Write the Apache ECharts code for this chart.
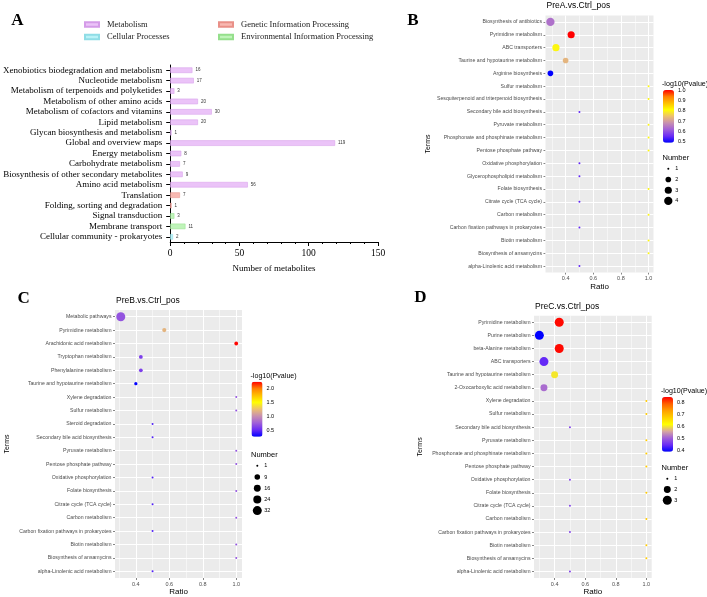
<!DOCTYPE html>
<html lang="en">
<head>
<meta charset="utf-8" />
<style>
  html, body { margin: 0; padding: 0; background: #fff; overflow: hidden; }
  #main { width: 707px; height: 597px; }
</style>
</head>
<body>
<div id="main"></div>
<script src="https://cdn.jsdelivr.net/npm/echarts@6/dist/echarts.min.js"></script>
<script>
// ---------- A: KEGG class counts ----------
var aCats = ['Xenobiotics biodegradation and metabolism', 'Nucleotide metabolism', 'Metabolism of terpenoids and polyketides',
  'Metabolism of other amino acids', 'Metabolism of cofactors and vitamins', 'Lipid metabolism', 'Glycan biosynthesis and metabolism',
  'Global and overview maps', 'Energy metabolism', 'Carbohydrate metabolism', 'Biosynthesis of other secondary metabolites',
  'Amino acid metabolism', 'Translation', 'Folding, sorting and degradation', 'Signal transduction', 'Membrane transport',
  'Cellular community - prokaryotes'];
var aValues = [16, 17, 3, 20, 30, 20, 1, 119, 8, 7, 9, 56, 7, 1, 3, 11, 2];
var aGroups = ['Metabolism', 'Metabolism', 'Metabolism', 'Metabolism', 'Metabolism', 'Metabolism', 'Metabolism', 'Metabolism',
  'Metabolism', 'Metabolism', 'Metabolism', 'Metabolism', 'Genetic Information Processing', 'Genetic Information Processing',
  'Environmental Information Processing', 'Environmental Information Processing', 'Cellular Processes'];
var groupNames = ['Metabolism', 'Cellular Processes', 'Genetic Information Processing', 'Environmental Information Processing'];

// ---------- B: PreA.vs.Ctrl_pos ----------
var bTerms = ['Biosynthesis of antibiotics', 'Pyrimidine metabolism', 'ABC transporters', 'Taurine and hypotaurine metabolism',
  'Arginine biosynthesis', 'Sulfur metabolism', 'Sesquiterpenoid and triterpenoid biosynthesis', 'Secondary bile acid biosynthesis',
  'Pyruvate metabolism', 'Phosphonate and phosphinate metabolism', 'Pentose phosphate pathway', 'Oxidative phosphorylation',
  'Glycerophospholipid metabolism', 'Folate biosynthesis', 'Citrate cycle (TCA cycle)', 'Carbon metabolism',
  'Carbon fixation pathways in prokaryotes', 'Biotin metabolism', 'Biosynthesis of ansamycins', 'alpha-Linolenic acid metabolism'];
var bRatio = [0.29, 0.44, 0.33, 0.40, 0.29, 1, 1, 0.5, 1, 1, 1, 0.5, 0.5, 1, 0.5, 1, 0.5, 1, 1, 0.5];
var bLogP = [0.64, 1.0, 0.8, 0.73, 0.49, 0.8, 0.8, 0.55, 0.8, 0.8, 0.8, 0.55, 0.55, 0.8, 0.55, 0.8, 0.55, 0.8, 0.8, 0.55];
var bNum = [4, 3, 3, 2, 2, 1, 1, 1, 1, 1, 1, 1, 1, 1, 1, 1, 1, 1, 1, 1];
var bColorTicks = [0.5, 0.6, 0.7, 0.8, 0.9, 1.0];
var bSizeKeys = [1, 2, 3, 4];

// ---------- C: PreB.vs.Ctrl_pos ----------
var cTerms = ['Metabolic pathways', 'Pyrimidine metabolism', 'Arachidonic acid metabolism', 'Tryptophan metabolism',
  'Phenylalanine metabolism', 'Taurine and hypotaurine metabolism', 'Xylene degradation', 'Sulfur metabolism', 'Steroid degradation',
  'Secondary bile acid biosynthesis', 'Pyruvate metabolism', 'Pentose phosphate pathway', 'Oxidative phosphorylation',
  'Folate biosynthesis', 'Citrate cycle (TCA cycle)', 'Carbon metabolism', 'Carbon fixation pathways in prokaryotes',
  'Biotin metabolism', 'Biosynthesis of ansamycins', 'alpha-Linolenic acid metabolism'];
var cRatio = [0.31, 0.57, 1, 0.43, 0.43, 0.40, 1, 1, 0.5, 0.5, 1, 1, 0.5, 1, 0.5, 1, 0.5, 1, 1, 0.5];
var cLogP = [0.7, 1.2, 2.25, 0.6, 0.6, 0.27, 0.7, 0.7, 0.45, 0.45, 0.7, 0.7, 0.45, 0.7, 0.45, 0.7, 0.45, 0.7, 0.7, 0.45];
var cNum = [32, 4, 3, 3, 3, 2, 1, 1, 1, 1, 1, 1, 1, 1, 1, 1, 1, 1, 1, 1];
var cColorTicks = [0.5, 1.0, 1.5, 2.0];
var cSizeKeys = [1, 9, 16, 24, 32];

// ---------- D: PreC.vs.Ctrl_pos ----------
var dTerms = ['Pyrimidine metabolism', 'Purine metabolism', 'beta-Alanine metabolism', 'ABC transporters',
  'Taurine and hypotaurine metabolism', '2-Oxocarboxylic acid metabolism', 'Xylene degradation', 'Sulfur metabolism',
  'Secondary bile acid biosynthesis', 'Pyruvate metabolism', 'Phosphonate and phosphinate metabolism', 'Pentose phosphate pathway',
  'Oxidative phosphorylation', 'Folate biosynthesis', 'Citrate cycle (TCA cycle)', 'Carbon metabolism',
  'Carbon fixation pathways in prokaryotes', 'Biotin metabolism', 'Biosynthesis of ansamycins', 'alpha-Linolenic acid metabolism'];
var dRatio = [0.43, 0.30, 0.43, 0.33, 0.40, 0.33, 1, 1, 0.5, 1, 1, 1, 0.5, 1, 0.5, 1, 0.5, 1, 1, 0.5];
var dLogP = [0.84, 0.386, 0.84, 0.44, 0.6, 0.51, 0.68, 0.68, 0.47, 0.68, 0.68, 0.68, 0.47, 0.68, 0.47, 0.68, 0.47, 0.68, 0.68, 0.47];
var dNum = [3, 3, 3, 3, 2, 2, 1, 1, 1, 1, 1, 1, 1, 1, 1, 1, 1, 1, 1, 1];
var dColorTicks = [0.4, 0.5, 0.6, 0.7, 0.8];
var dSizeKeys = [1, 2, 3];

var ratioMajor = [0.4, 0.6, 0.8, 1.0];
var ratioMinor = [0.3, 0.5, 0.7, 0.9];

// styles
var groupFill = ['#ebc3f8', '#b9f2f7', '#f8b9b2', '#bff4b9'];
var groupEdge = ['#d49be8', '#8fdde6', '#e99088', '#95df8c'];
var heatYellowLate = ['#0000ff', '#6a2cf5', '#a060d8', '#c890b0', '#ecc070', '#ffff00', '#ffc000', '#ff8000', '#ff0000'];
var heatYellowMid = ['#0000ff', '#6a2cf5', '#a060d8', '#d8a8a0', '#ffff00', '#ffd000', '#ffa000', '#ff6000', '#ff0000'];
var serif = 'Liberation Serif';
var sans = 'Liberation Sans';

var myChart = echarts.init(document.getElementById('main'));

// ggplot-like area scaling of point size
function sizeOf(n, keys, dMax) {
  var lo = keys[0], hi = keys[keys.length - 1];
  return 2 + (dMax - 2) * Math.sqrt((n - lo) / (hi - lo));
}

var panels = [
  { terms: bTerms, ratio: bRatio, logp: bLogP, num: bNum, title: 'PreA.vs.Ctrl_pos',
    box: [545.5, 15.5, 108, 257], vm: [0.49, 1.0], colorTicks: bColorTicks, sizeKeys: bSizeKeys, dMax: 8.3,
    colors: heatYellowLate, bar: [663, 90, 11, 52.7], numTop: 158, keyStep: 10.7, keyX: 668.3, termsGap: 114 },
  { terms: cTerms, ratio: cRatio, logp: cLogP, num: cNum, title: 'PreB.vs.Ctrl_pos',
    box: [115, 310, 127, 270], vm: [0.26, 2.26], colorTicks: cColorTicks, sizeKeys: cSizeKeys, dMax: 9,
    colors: heatYellowLate, bar: [251.5, 381.7, 11, 55], numTop: 455, keyStep: 11.2, keyX: 257.3, termsGap: 104 },
  { terms: dTerms, ratio: dRatio, logp: dLogP, num: dNum, title: 'PreC.vs.Ctrl_pos',
    box: [534, 315.7, 117.7, 264.3], vm: [0.386, 0.845], colorTicks: dColorTicks, sizeKeys: dSizeKeys, dMax: 9,
    colors: heatYellowMid, bar: [662, 397, 11, 54.7], numTop: 468, keyStep: 10.7, keyX: 667.3, termsGap: 110 }
];

var grids = [{ left: 168, top: 65, width: 210, height: 177 }];
var xAxes = [{
  type: 'value', gridIndex: 0, min: 0, max: 150, interval: 50,
  axisLine: { show: true, lineStyle: { color: '#000', width: 1 } },
  axisTick: { show: true, length: 4, lineStyle: { color: '#000' } },
  minorTick: { show: true, splitNumber: 5, length: 2, lineStyle: { color: '#000' } },
  axisLabel: { fontFamily: serif, fontSize: 9.5, color: '#000', margin: 6 },
  splitLine: { show: false },
  name: 'Number of metabolites', nameLocation: 'middle', nameGap: 22,
  nameTextStyle: { fontFamily: serif, fontSize: 9, color: '#000' }
}];
var yAxes = [{
  type: 'category', gridIndex: 0, data: aCats, inverse: true,
  axisLine: { show: true, lineStyle: { color: '#000', width: 1 } },
  axisTick: { show: true, alignWithLabel: true, length: 4, lineStyle: { color: '#000' } },
  axisLabel: { fontFamily: serif, fontSize: 9, color: '#000', margin: 8, interval: 0 },
  splitLine: { show: false }
}];

var series = groupNames.map(function (g, k) {
  return {
    type: 'bar', name: g, xAxisIndex: 0, yAxisIndex: 0, barWidth: 5.5, barGap: '-100%',
    data: aValues.map(function (v, i) { return aGroups[i] === g ? v : '-'; }),
    itemStyle: { color: groupFill[k], borderColor: groupEdge[k], borderWidth: 0.5 },
    label: { show: true, position: 'right', distance: 3, fontSize: 4.5, color: '#333', fontFamily: sans }
  };
});

var visualMaps = [];
var graphics = [
  { type: 'text', x: 17.5, y: 21, style: { text: 'A', font: 'bold 17px ' + serif, fill: '#000', textAlign: 'center', textVerticalAlign: 'middle' } },
  { type: 'text', x: 413, y: 21, style: { text: 'B', font: 'bold 17px ' + serif, fill: '#000', textAlign: 'center', textVerticalAlign: 'middle' } },
  { type: 'text', x: 23.7, y: 298.5, style: { text: 'C', font: 'bold 17px ' + serif, fill: '#000', textAlign: 'center', textVerticalAlign: 'middle' } },
  { type: 'text', x: 420.3, y: 298, style: { text: 'D', font: 'bold 17px ' + serif, fill: '#000', textAlign: 'center', textVerticalAlign: 'middle' } }
];

panels.forEach(function (p, k) {
  var gi = k + 1;
  var lo = Math.min.apply(null, p.ratio), hi = Math.max.apply(null, p.ratio);
  var pad = (hi - lo) * 0.05;
  grids.push({ left: p.box[0], top: p.box[1], width: p.box[2], height: p.box[3],
    show: true, backgroundColor: '#ebebeb', borderWidth: 0 });
  xAxes.push({
    type: 'value', gridIndex: gi, min: lo - pad, max: hi + pad,
    axisLine: { show: false }, splitLine: { show: false },
    axisTick: { show: true, length: 2, lineStyle: { color: '#333', width: 0.6 }, customValues: ratioMajor },
    axisLabel: { customValues: ratioMajor, fontFamily: sans, fontSize: 5.5, color: '#4d4d4d', margin: 3,
      formatter: function (v) { return v.toFixed(1); } },
    name: 'Ratio', nameLocation: 'middle', nameGap: 10,
    nameTextStyle: { fontFamily: sans, fontSize: 8, color: '#000' }
  });
  yAxes.push({
    type: 'category', gridIndex: gi, data: p.terms, inverse: true,
    axisLine: { show: false }, splitLine: { show: false },
    axisTick: { show: true, alignWithLabel: true, length: 2, lineStyle: { color: '#333', width: 0.6 } },
    axisLabel: { fontFamily: sans, fontSize: 5.2, color: '#4d4d4d', margin: 3.5, interval: 0 },
    name: 'Terms', nameLocation: 'middle', nameRotate: 90, nameGap: p.termsGap,
    nameTextStyle: { fontFamily: sans, fontSize: 7, color: '#000' }
  });

  // white panel grid lines, ggplot style
  var lines = [];
  ratioMajor.forEach(function (v) { lines.push({ xAxis: v, lineStyle: { width: 1 } }); });
  ratioMinor.forEach(function (v) { lines.push({ xAxis: v, lineStyle: { width: 0.5 } }); });
  p.terms.forEach(function (t, i) { lines.push({ yAxis: i, lineStyle: { width: 1 } }); });
  series.push({
    type: 'line', xAxisIndex: gi, yAxisIndex: gi, data: [], silent: true,
    markLine: { z: 1, silent: true, animation: false, symbol: ['none', 'none'], label: { show: false },
      lineStyle: { color: '#ffffff', type: 'solid' }, data: lines }
  });
  var si = series.length;
  series.push({
    type: 'scatter', xAxisIndex: gi, yAxisIndex: gi, z: 3,
    data: p.terms.map(function (t, i) { return [p.ratio[i], t, p.logp[i], p.num[i]]; }),
    symbolSize: function (d) { return sizeOf(d[3], p.sizeKeys, p.dMax); },
    itemStyle: { opacity: 1 }
  });

  visualMaps.push({
    type: 'continuous', seriesIndex: si, dimension: 2, min: p.vm[0], max: p.vm[1],
    inRange: { color: p.colors }, calculable: false, realtime: false, padding: 0,
    left: p.bar[0], top: p.bar[1], itemWidth: p.bar[2], itemHeight: p.bar[3]
  });

  // colour bar title and tick labels
  graphics.push({ type: 'text', x: p.bar[0] - 1, y: p.bar[1] - 5.5,
    style: { text: '-log10(Pvalue)', font: '7.1px ' + sans, fill: '#000', textAlign: 'left', textVerticalAlign: 'middle' } });
  p.colorTicks.forEach(function (v) {
    var y = p.bar[1] + (p.vm[1] - v) / (p.vm[1] - p.vm[0]) * p.bar[3];
    graphics.push({ type: 'text', x: p.bar[0] + p.bar[2] + 4, y: y,
      style: { text: v.toFixed(1), font: '5.5px ' + sans, fill: '#000', textAlign: 'left', textVerticalAlign: 'middle' } });
    graphics.push({ type: 'line', shape: { x1: p.bar[0], y1: y, x2: p.bar[0] + 2, y2: y }, style: { stroke: '#fff', lineWidth: 0.5 } });
    graphics.push({ type: 'line', shape: { x1: p.bar[0] + p.bar[2] - 2, y1: y, x2: p.bar[0] + p.bar[2], y2: y }, style: { stroke: '#fff', lineWidth: 0.5 } });
  });

  // size legend
  graphics.push({ type: 'text', x: p.bar[0] - 0.5, y: p.numTop,
    style: { text: 'Number', font: '7.5px ' + sans, fill: '#000', textAlign: 'left', textVerticalAlign: 'middle' } });
  p.sizeKeys.forEach(function (n, j) {
    var y = p.numTop + 10.8 + j * p.keyStep;
    graphics.push({ type: 'circle', shape: { cx: p.keyX, cy: y, r: sizeOf(n, p.sizeKeys, p.dMax) / 2 }, style: { fill: '#000' } });
    graphics.push({ type: 'text', x: p.keyX + 7, y: y,
      style: { text: String(n), font: '5.5px ' + sans, fill: '#000', textAlign: 'left', textVerticalAlign: 'middle' } });
  });

  // panel title
  graphics.push({ type: 'text', x: p.box[0] + 1, y: p.box[1] - 9.5,
    style: { text: p.title, font: '8.5px ' + sans, fill: '#000', textAlign: 'left', textVerticalAlign: 'middle' } });
});

var option = {
  animation: false,
  textStyle: { fontFamily: sans },
  grid: grids,
  xAxis: xAxes,
  yAxis: yAxes,
  legend: [
    { data: ['Metabolism', 'Cellular Processes'], orient: 'vertical', left: 84, top: 20, padding: 0,
      itemWidth: 14, itemHeight: 4.5, itemGap: 3.5, icon: 'rect',
      textStyle: { fontFamily: serif, fontSize: 8.5, color: '#222', padding: [0, 0, 0, 3] } },
    { data: ['Genetic Information Processing', 'Environmental Information Processing'], orient: 'vertical', left: 218, top: 20, padding: 0,
      itemWidth: 14, itemHeight: 4.5, itemGap: 3.5, icon: 'rect',
      textStyle: { fontFamily: serif, fontSize: 8.5, color: '#222', padding: [0, 0, 0, 3] } }
  ],
  visualMap: visualMaps,
  series: series,
  graphic: graphics
};

myChart.setOption(option);
</script>
</body>
</html>
